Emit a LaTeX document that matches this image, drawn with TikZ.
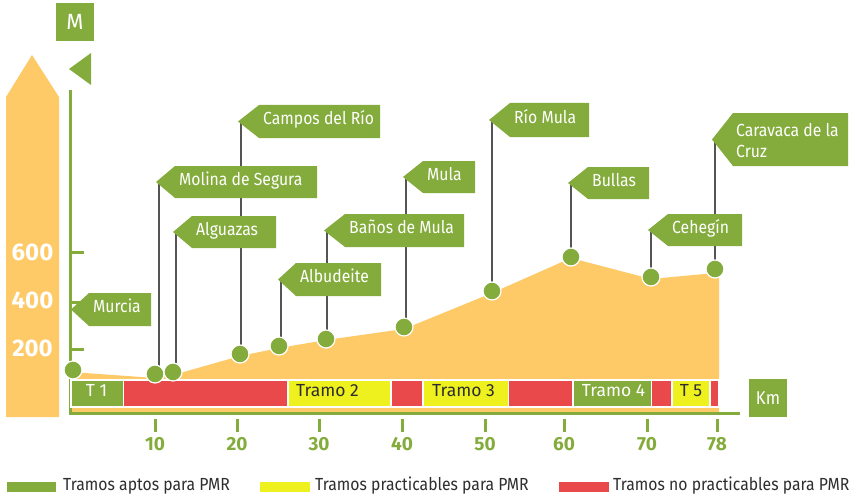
\documentclass[tikz,border=0pt]{standalone}
\usepackage{fontspec}
\setmainfont{Fira Sans}
\newfontfamily\tagfont{Fira Sans}[FakeStretch=0.9]
\usetikzlibrary{calc}
\definecolor{pgreen}{HTML}{84AC3C}
\definecolor{porange}{HTML}{FECA68}
\definecolor{pred}{HTML}{E9494B}
\definecolor{pyellow}{HTML}{EEF11E}
\definecolor{pdark}{HTML}{2E2E2E}
\definecolor{pline}{HTML}{555555}
\pgfdeclarelayer{back}
\pgfdeclarelayer{mid}
\pgfsetlayers{back,mid,main}
\newcommand\tagat[7]{%
  \fill[pgreen] (#2,{(#5+#6)/2}) -- (#3,#5) -- (#4,#5) -- (#4,#6) -- (#3,#6) -- cycle;
  \node[tagtext, anchor=west] (#1) at ({#3+4},{(#5+#6)/2}) {#7};
  \coordinate (#1tip) at ({#2+3},{(#5+#6)/2});
}
\begin{document}
\begin{tikzpicture}[x=1pt,y=-1pt,
  tagtext/.style={text=white, inner sep=0pt, font=\tagfont\fontsize{17.5}{21}\selectfont, text height=0.94em, text depth=0.25em},
  dotnode/.style={circle, fill=pgreen, draw=white, line width=1.2pt, minimum size=18pt, inner sep=0pt},
  conn/.style={draw=pline, line width=1.5pt},
  seg/.style={draw=white, line width=1.2pt},
  bartext/.style={inner sep=0pt, font=\fontsize{17.5}{20}\selectfont, text height=0.94em, text depth=0.25em},
  ylab/.style={text=white, inner sep=0pt, font=\fontsize{24}{28}\selectfont\bfseries},
  xlab/.style={text=pgreen, inner sep=0pt, font=\fontsize{19}{22}\selectfont\bfseries},
  axis/.style={draw=pgreen, line width=3pt},
  legtext/.style={text=pdark, inner sep=0pt, font=\tagfont\fontsize{17.5}{20}\selectfont, text height=0.94em, text depth=0.25em, anchor=west}
]
\useasboundingbox (0,0) rectangle (860,503);

\begin{pgfonlayer}{back}
\fill[white] (0,0) rectangle (860,503);
% orange arrow
\fill[porange] (6,417) -- (6,97) -- (32,55) -- (59,97) -- (59,417) -- cycle;
% elevation profile
\fill[porange] (71,413) -- (71,372) -- (155,378) -- (173,375) -- (240,356) -- (279,348)
  -- (326,340) -- (404,329) -- (492,293) -- (571,258) -- (651,279) -- (715,273)
  -- (719,273) -- (719,413) -- cycle;
% axes
\draw[axis] (70,90) -- (70,414.5);
\draw[axis] (68.5,413) -- (740,413);
\foreach \yy in {252,302,349} \draw[axis] (70,\yy) -- (84,\yy);
\foreach \xx in {155,237,319,402,485,564,647,717} \draw[axis] (\xx,419) -- (\xx,432);
\end{pgfonlayer}

% M box and pointer
\node[fill=pgreen, minimum width=38pt, minimum height=38pt, inner sep=0pt, text=white,
  font=\fontsize{22}{24}\selectfont] (mbox) at (75,22) {M};
\fill[pgreen] (69,69) -- (91,53) -- (91,85) -- cycle;
% Km box
\node[fill=pgreen, minimum width=38pt, minimum height=38pt, inner sep=0pt, text=white,
  font=\tagfont\fontsize{18.5}{20}\selectfont] (kmbox) at (768,398) {Km};

% y labels
\node[ylab] (y600) at (32.5,252) {600};
\node[ylab] (y400) at (32.5,300) {400};
\node[ylab] (y200) at (32.5,348) {200};
% x labels
\foreach \xx/\lab in {155/10,237/20,319/30,402/40,485/50,564/60,647/70,717/78}
  \node[xlab] (x\lab) at (\xx,444) {\lab};

% tramos bar
\filldraw[seg, fill=pgreen] (71,380) rectangle (123.5,407);
\filldraw[seg, fill=pred] (123.5,380) rectangle (288,407);
\filldraw[seg, fill=pyellow] (288,380) rectangle (391,407);
\filldraw[seg, fill=pred] (391,380) rectangle (423,407);
\filldraw[seg, fill=pyellow] (423,380) rectangle (508.5,407);
\filldraw[seg, fill=pred] (508.5,380) rectangle (573,407);
\filldraw[seg, fill=pgreen] (573,380) rectangle (651.5,407);
\filldraw[seg, fill=pred] (651.5,380) rectangle (672,407);
\filldraw[seg, fill=pyellow] (672,380) rectangle (710,407);
\filldraw[seg, fill=pred] (710,380) rectangle (719,407);
\node[bartext, text=white] (b1) at (96.5,393.5) {T 1};
\node[bartext, text=pdark] (b2) at (327.5,393.5) {Tramo 2};
\node[bartext, text=pdark] (b3) at (463.5,393.5) {Tramo 3};
\node[bartext, text=white] (b4) at (613.5,393.5) {Tramo 4};
\node[bartext, text=pdark] (b5) at (691,393.5) {T 5};

% tags
\tagat{murcia}{71}{89}{151}{293}{326}{Murcia}
\tagat{molina}{156}{175}{317}{166}{198}{Molina de Segura}
\tagat{alguazas}{173}{192}{276}{216}{248}{Alguazas}
\tagat{campos}{238}{259}{380}{105}{138}{Campos del Río}
\tagat{albudeite}{278}{296}{381}{263}{296}{Albudeite}
\tagat{banos}{324}{345}{464}{214}{247}{Baños de Mula}
\tagat{mula}{403}{423}{475}{161}{193}{Mula}
\tagat{riomula}{489}{510}{589}{103}{137}{Río Mula}
\tagat{bullas}{568}{588}{649}{167}{199}{Bullas}
\tagat{cehegin}{648}{668}{742}{214}{246}{Cehegín}
% Caravaca (two lines)
\fill[pgreen] (712,139.5) -- (733,113) -- (848,113) -- (848,166) -- (733,166) -- cycle;
\node[text=white, inner sep=0pt, align=left, anchor=west,
  font=\tagfont\fontsize{17.5}{21}\selectfont] (caravaca) at (736,140.5) {Caravaca de la\\Cruz};
\coordinate (caravacatip) at (715,139.5);

% dots
\node[dotnode] (dmurcia) at (73,370) {};
\node[dotnode] (dmolina) at (155,374) {};
\node[dotnode] (dalguazas) at (173,372) {};
\node[dotnode] (dcampos) at (240,354) {};
\node[dotnode] (dalbudeite) at (279,346) {};
\node[dotnode] (dbanos) at (326,339) {};
\node[dotnode] (dmula) at (404,327) {};
\node[dotnode] (driomula) at (492,291) {};
\node[dotnode] (dbullas) at (571,257) {};
\node[dotnode] (dcehegin) at (651,277) {};
\node[dotnode] (dcaravaca) at (715,269) {};

\begin{pgfonlayer}{mid}
\foreach \n in {molina,alguazas,campos,albudeite,banos,mula,riomula,bullas,cehegin,caravaca}
  \draw[conn] (\n tip) -- (\n tip |- d\n.center);
\end{pgfonlayer}

% legend
\fill[pgreen] (7,482) rectangle (56,492);
\node[legtext] (leg1) at (63,487) {Tramos aptos para PMR};
\fill[pyellow] (260,482) rectangle (310,492);
\node[legtext] (leg2) at (315,487) {Tramos practicables para PMR};
\fill[pred] (559,482) rectangle (609,492);
\node[legtext] (leg3) at (613,487) {Tramos no practicables para PMR};
\end{tikzpicture}
\end{document}
